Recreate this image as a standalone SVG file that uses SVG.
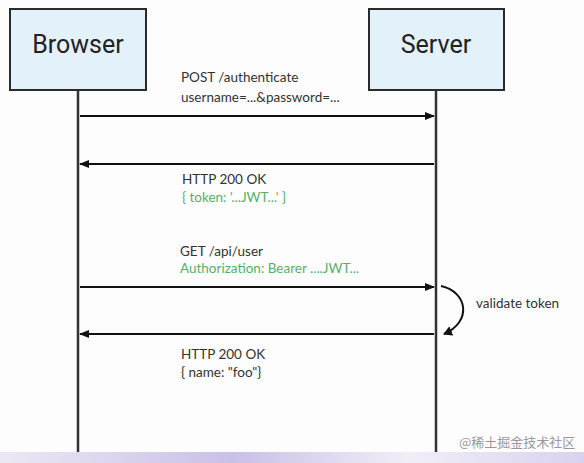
<svg xmlns="http://www.w3.org/2000/svg" width="584" height="463" viewBox="0 0 584 463">
<style>
.box{fill:#e3f1fb;stroke:#2b2b2b;stroke-width:2}
.title{font-family:Roboto,"Liberation Sans",sans-serif;font-size:25px;fill:#222;text-anchor:middle}
.life{stroke:#333;stroke-width:2.5;fill:none}
.msg{stroke:#111;stroke-width:2;fill:none}
.lbl{font-family:Lato,"Open Sans",sans-serif;font-size:13.5px;fill:#333}
.grn{fill:#55b067}
.wm{font-family:"Noto Sans CJK SC",sans-serif;font-size:13px;fill:#999}
</style>
<defs>
<marker id="ah" markerWidth="10" markerHeight="8" refX="9" refY="4" orient="auto" markerUnits="userSpaceOnUse">
<path d="M0,0 L10,4 L0,8 Z" fill="#111"/>
</marker>
<marker id="ah2" markerWidth="10" markerHeight="10" refX="8" refY="5" orient="auto" markerUnits="userSpaceOnUse">
<path d="M0,0 L9,5 L0,10 Z" fill="#111"/>
</marker>
<linearGradient id="bot" x1="0" y1="0" x2="1" y2="0">
<stop offset="0" stop-color="#ece8f4"/>
<stop offset="0.4" stop-color="#c9c0e6"/>
<stop offset="0.7" stop-color="#f1eef7"/>
<stop offset="1" stop-color="#d9d2ee"/>
</linearGradient>
</defs>
<rect width="584" height="463" fill="#fdfdfd"/>
<rect x="0" y="452" width="584" height="11" fill="url(#bot)"/>
<g id="browser">
<rect class="box" x="10" y="9" width="136" height="81"/>
<text class="title" x="78" y="53">Browser</text>
<line class="life" x1="78" y1="90" x2="78" y2="452"/>
</g>
<g id="server">
<rect class="box" x="369" y="9" width="135" height="81"/>
<text class="title" x="436" y="53">Server</text>
<line class="life" x1="436" y1="90" x2="436" y2="452"/>
</g>
<g id="connectors">
<line class="msg" x1="80" y1="116" x2="434" y2="116" marker-end="url(#ah)"/>
<line class="msg" x1="434" y1="164" x2="80" y2="164" marker-end="url(#ah)"/>
<line class="msg" x1="80" y1="287" x2="434" y2="287" marker-end="url(#ah)"/>
<path class="msg" d="M441,286 C468,292 472,322 444,334" marker-end="url(#ah2)"/>
<line class="msg" x1="434" y1="334" x2="80" y2="334" marker-end="url(#ah)"/>
</g>
<g id="labels">
<text class="lbl" x="181" y="82">POST /authenticate</text>
<text class="lbl" x="181" y="102">username=...&amp;password=...</text>
<text class="lbl" x="182" y="184">HTTP 200 OK</text>
<text class="lbl grn" x="182" y="202">{ token: '...JWT...' }</text>
<text class="lbl" x="180" y="256">GET /api/user</text>
<text class="lbl grn" x="180" y="273">Authorization: Bearer ....JWT...</text>
<text class="lbl" x="476" y="308">validate token</text>
<text class="lbl" x="181" y="359">HTTP 200 OK</text>
<text class="lbl" x="181" y="377">{ name: "foo"}</text>
</g>
<text class="wm" x="459" y="447">@稀土掘金技术社区</text>
</svg>
